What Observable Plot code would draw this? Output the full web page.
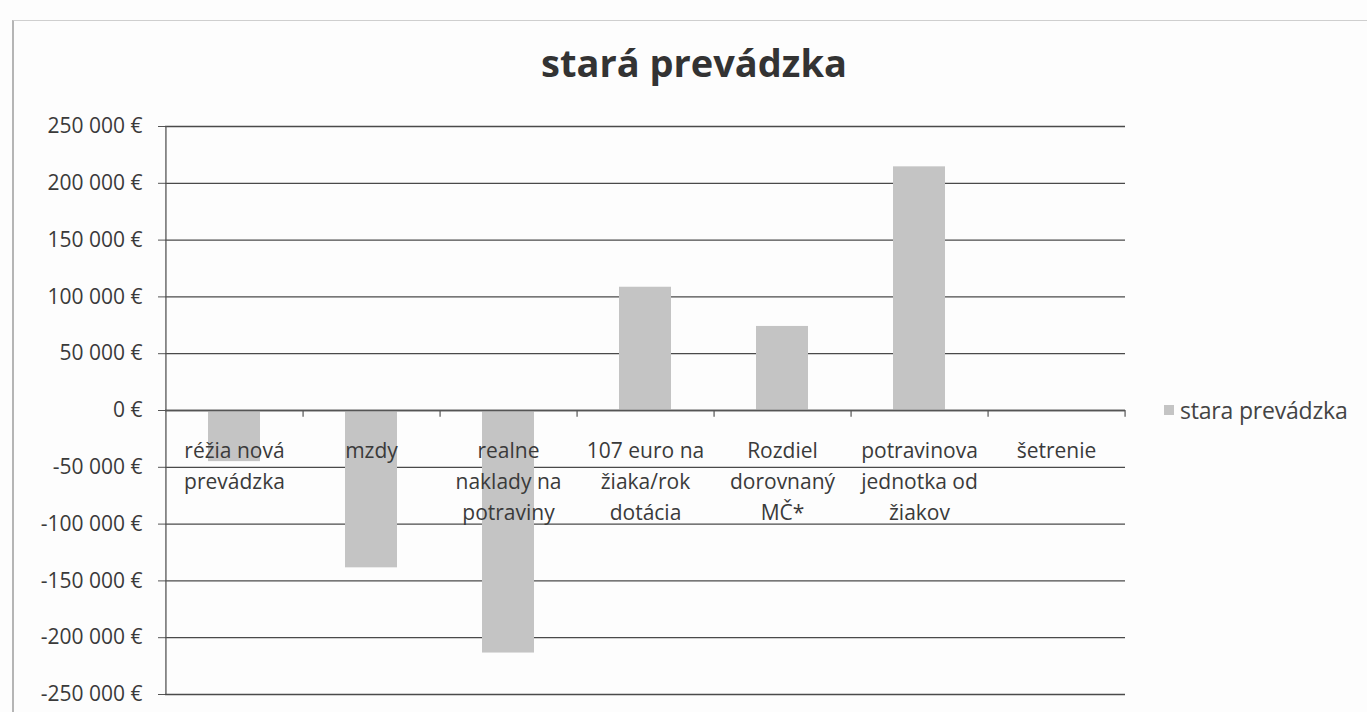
<!DOCTYPE html>
<html>
<head>
<meta charset="utf-8">
<script src="https://cdn.jsdelivr.net/npm/d3@7"></script>
<script src="https://cdn.jsdelivr.net/npm/@observablehq/plot@0.6"></script>
<style>
  html, body { margin: 0; padding: 0; background: #fdfdfd; }
  #wrap { position: relative; width: 1367px; height: 712px; overflow: hidden; font-family: "Open Sans", Lato, sans-serif; color: #3a3a3a; }
  #border { position: absolute; left: 12px; top: 20px; width: 1400px; height: 720px; border-left: 2px solid #b5b5b5; border-top: 1px solid #cfcfcf; }
  #title { position: absolute; left: 0; top: 43px; width: 1388px; text-align: center; font: 700 38px "Open Sans", sans-serif; line-height: 38px; color: #333; }
  #legend { position: absolute; left: 1164px; top: 396px; height: 28px; display: flex; align-items: center; font: 400 23px "Open Sans", sans-serif; color: #444; white-space: nowrap; letter-spacing: -0.2px; }
  #legend .sw { width: 10px; height: 10px; background: #c4c4c4; margin-right: 6px; }
  #chart { position: absolute; left: 0; top: 0; }
</style>
</head>
<body>
<div id="wrap">
  <div id="border"></div>
  <div id="chart"></div>
  <div id="title">stará prevádzka</div>
  <div id="legend"><span class="sw"></span><span id="legendText"></span></div>
</div>
<script>
// ---- data ----
const categories = [
  "réžia nová prevádzka",
  "mzdy",
  "realne naklady na potraviny",
  "107 euro na žiaka/rok dotácia",
  "Rozdiel dorovnaný MČ*",
  "potravinova jednotka od žiakov",
  "šetrenie"
];
const categoryLabels = [
  "réžia nová\nprevádzka",
  "mzdy",
  "realne\nnaklady na\npotraviny",
  "107 euro na\nžiaka/rok\ndotácia",
  "Rozdiel\ndorovnaný\nMČ*",
  "potravinova\njednotka od\nžiakov",
  "šetrenie"
];
const values = [-45000, -138500, -213500, 108500, 74000, 214500, 0];
const yTicks = [-250000, -200000, -150000, -100000, -50000, 0, 50000, 100000, 150000, 200000, 250000];
const seriesName = "stara prevádzka";

// ---- build ----
const data = categories.map((c, i) => ({category: c, label: categoryLabels[i], value: values[i]}));

const W = 1367, H = 712;
const mL = 165, mR = 242, mT = 126, mB = 18;
const step = (W - mL - mR) / categories.length;

const fmt = d3.formatLocale({decimal: ",", thousands: " ", grouping: [3], currency: ["", ""], minus: "-"}).format(",");
const fmtEur = v => fmt(v) + " €";

const chart = Plot.plot({
  width: W,
  height: H,
  marginLeft: mL,
  marginRight: mR,
  marginTop: mT,
  marginBottom: mB,
  style: {background: "transparent", fontFamily: "'Open Sans', Lato, sans-serif", color: "#3a3a3a"},
  x: {domain: categories, paddingInner: 0.62, paddingOuter: 0.31, axis: null},
  y: {domain: [-250000, 250000], axis: null},
  marks: [
    Plot.gridY(yTicks, {stroke: "#4a4a4a", strokeOpacity: 1, strokeWidth: 1.3}),
    Plot.barY(data, {x: "category", y: "value", fill: "#c4c4c4"}),
    Plot.ruleY([0], {stroke: "#555", strokeWidth: 1.5}),
    Plot.ruleX([categories[0]], {stroke: "#555", strokeWidth: 1.3, dx: -step / 2}),
    Plot.ruleX(categories, {y1: 0, y2: -6000, stroke: "#555", strokeWidth: 1.2, dx: step / 2}),
    Plot.axisY(yTicks, {tickSize: 7, tickPadding: 16, tickFormat: fmtEur, fontSize: 21, stroke: "#555", fill: "#3a3a3a", label: null}),
    Plot.text(data, {x: "category", y: () => 0, text: "label", lineAnchor: "top", dy: 25, fontSize: 21, lineHeight: 1.48, fill: "#3a3a3a"})
  ]
});
document.getElementById("chart").appendChild(chart);
document.getElementById("legendText").textContent = seriesName;
</script>
</body>
</html>
